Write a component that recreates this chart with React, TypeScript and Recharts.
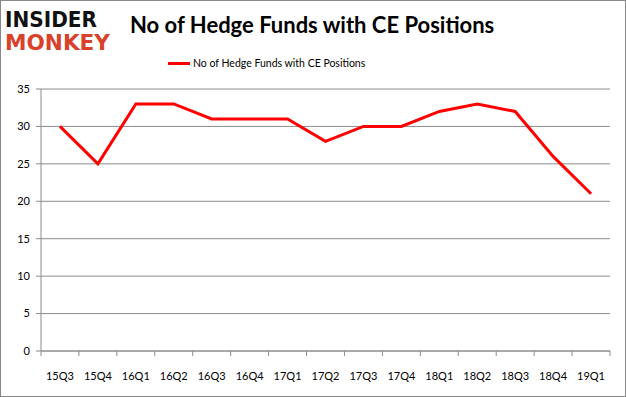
import { LineChart, Line, XAxis, YAxis, CartesianGrid } from 'recharts';

const quarters = ['15Q3', '15Q4', '16Q1', '16Q2', '16Q3', '16Q4', '17Q1', '17Q2', '17Q3', '17Q4', '18Q1', '18Q2', '18Q3', '18Q4', '19Q1'];
const hedgeFunds = [30, 25, 33, 33, 31, 31, 31, 28, 30, 30, 32, 33, 32, 26, 21];
const yTicks = [0, 5, 10, 15, 20, 25, 30, 35];

const seriesName = 'No of Hedge Funds with CE Positions';
const font = 'Lato, Carlito, "Liberation Sans", sans-serif';

const plotLeft = 41;
const plotRight = 610;
const step = (plotRight - plotLeft) / quarters.length;

// label centred on the category, tick marks on the category boundaries (Excel style)
function QuarterTick(props: any) {
  const { x, y, payload, index } = props;
  return (
    <g>
      <line x1={x + step / 2} x2={x + step / 2} y1={y - 8} y2={y - 3} stroke="#8c8c8c" />
      {index === 0 && <line x1={x - step / 2} x2={x - step / 2} y1={y - 8} y2={y - 3} stroke="#8c8c8c" />}
      <text x={x} y={y + 21} textAnchor="middle" fontSize={11} fill="#000" fontFamily={font}>{payload.value}</text>
    </g>
  );
}

export default function App() {
  const data = quarters.map((q, i) => ({ quarter: q, value: hedgeFunds[i] }));

  return (
    <div style={{ position: 'relative', width: 626, height: 397, background: '#fff', fontFamily: font }}>
      <style>{'body{margin:0}'}</style>
      <div style={{ position: 'absolute', left: 0, top: 0, width: 624, height: 395, border: '1px solid #888' }} />
      <svg width={120} height={56} style={{ position: 'absolute', left: 0, top: 0 }}>
        <text x={5} y={27} textLength={92} lengthAdjust="spacingAndGlyphs" fontSize={22} fontWeight={900}
          fontFamily='"DejaVu Sans", sans-serif' fill="#111">INSIDER</text>
        <text x={5} y={50} textLength={105} lengthAdjust="spacingAndGlyphs" fontSize={22} fontWeight={900}
          fontFamily='"DejaVu Sans", sans-serif' fill="#d9412b">MONKEY</text>
      </svg>
      <div style={{ position: 'absolute', left: 130, top: 11, fontSize: 22, fontWeight: 700, color: '#000', whiteSpace: 'nowrap' }}>
        {seriesName}
      </div>
      <div style={{ position: 'absolute', left: 168, top: 55, height: 16, display: 'flex', alignItems: 'center', fontSize: 10.5, color: '#000', whiteSpace: 'nowrap' }}>
        <span style={{ display: 'inline-block', width: 22, height: 3, background: '#ff0000', marginRight: 3 }} />
        {seriesName}
      </div>
      <LineChart width={626} height={397} data={data} margin={{ top: 89, right: 626 - plotRight, bottom: 16, left: 0 }}
        style={{ position: 'absolute', left: 0, top: 0 }}>
        <CartesianGrid vertical={false} stroke="#8c8c8c" strokeWidth={1} />
        <XAxis dataKey="quarter" height={30} stroke="#8c8c8c" tickLine={false} interval={0}
          padding={{ left: step / 2, right: step / 2 }} tick={<QuarterTick />} />
        <YAxis width={plotLeft} domain={[0, 35]} ticks={yTicks} stroke="#8c8c8c" tickSize={5}
          tick={{ fontSize: 11, fill: '#000', fontFamily: font }} tickMargin={6} />
        <Line type="linear" dataKey="value" name={seriesName} stroke="#ff0000" strokeWidth={3}
          dot={false} isAnimationActive={false} />
      </LineChart>
    </div>
  );
}
